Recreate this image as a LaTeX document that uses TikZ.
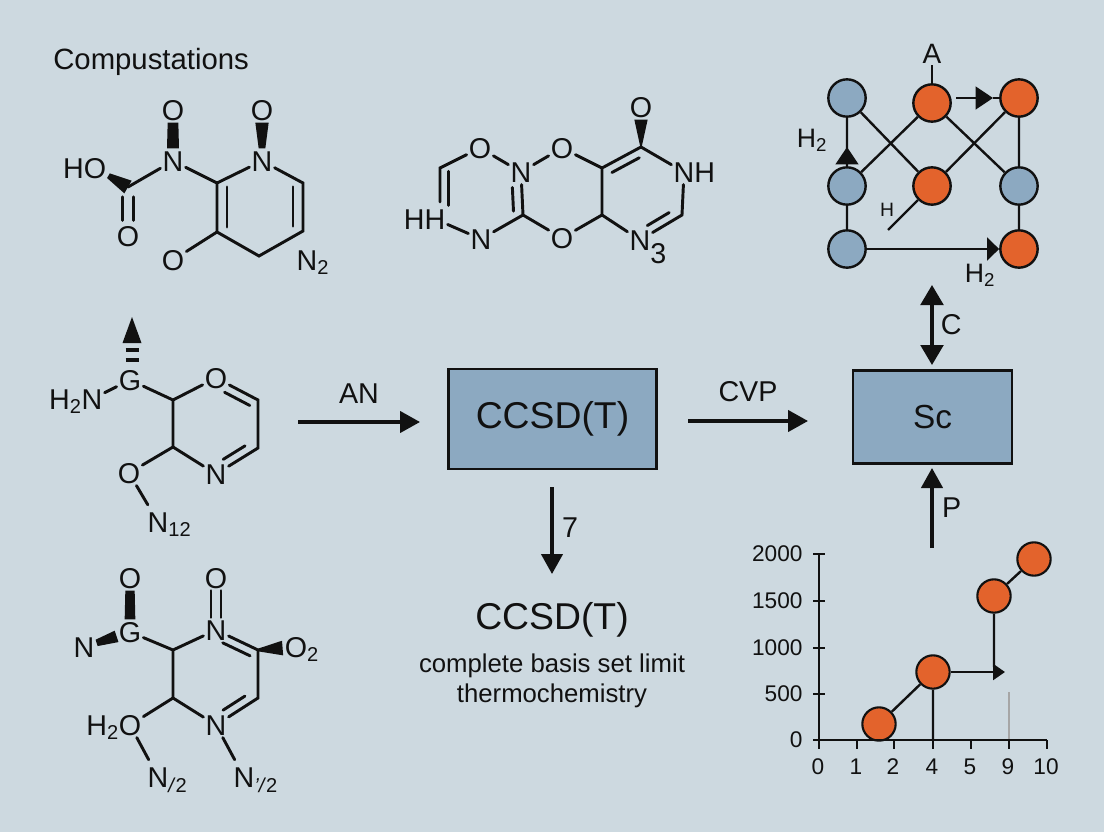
\documentclass[tikz,border=0pt]{standalone}
\usepackage{fontspec}
\setmainfont{Liberation Sans}
\usetikzlibrary{arrows.meta,calc}
\definecolor{paper}{HTML}{CDD9E0}
\definecolor{ink}{HTML}{111111}
\definecolor{steel}{HTML}{8CA9C1}
\definecolor{rust}{HTML}{E3632C}
\tikzset{
  atom/.style={inner sep=1.5pt, text height=15.5pt, text depth=0pt, font=\fontsize{21.5}{24}\selectfont},
  bond/.style={line width=2.2pt, line cap=round},
  flow/.style={line width=2.5pt, -{Triangle[length=15pt,width=16pt]}},
  flowlbl/.style={font=\fontsize{21.5}{24}\selectfont},
  site/.style={circle, draw=ink, line width=1.8pt, minimum size=28pt, inner sep=0pt},
  link/.style={line width=1.8pt},
  tinyhead/.style={-{Triangle[length=13pt,width=17pt]}},
  blockbox/.style={draw=ink, line width=1.8pt, fill=steel},
  dot/.style={circle, draw=ink, fill=rust, line width=1.6pt, minimum size=25pt, inner sep=0pt},
  axlbl/.style={font=\fontsize{17}{19}\selectfont, inner sep=0pt}
}
% inner line of a double bond: from, to, offset, start, end
\newcommand{\dblin}[5]{\draw[bond] ($(#1)!#4!(#2)+(#1)!#3!90:(#2)-(#1)$) -- ($(#1)!#5!(#2)+(#1)!#3!90:(#2)-(#1)$);}
% solid wedge: from, to, half width at each end
\newcommand{\wdg}[4]{\path (#1) -- (#2) coordinate[pos=0] (wa) coordinate[pos=1] (wb);
  \fill[ink] ($(wa)!#3!90:(wb)$) -- ($(wb)!#4!-90:(wa)$) -- ($(wb)!#4!90:(wa)$) -- ($(wa)!#3!-90:(wb)$) -- cycle;}

\begin{document}
\begin{tikzpicture}[x=0.75pt, y=-0.75pt, text=ink, draw=ink, >=Stealth]
  \fill[paper] (0, 0) rectangle (1104, 832);
  \useasboundingbox (0, 0) rectangle (1104, 832);
  \node[font=\fontsize{22}{26}\selectfont, inner sep=0pt, anchor=west] (title) at (53, 62) {Compustations};

  % top left molecule
  \node[atom] (o1) at (173, 110) {O};
  \node[atom] (o2) at (262, 110) {O};
  \node[atom] (n1) at (173, 161) {N};
  \node[atom] (n2) at (262, 161) {N};
  \node[atom] (ho) at (95, 168)  {\llap{H}O};
  \node[atom] (o3) at (128, 236) {O};
  \node[atom] (o4) at (173, 260) {O};
  \node[atom] (nb) at (307, 260) {N\rlap{\textsubscript{2}}};
  \coordinate (ca) at (128, 187);
  \coordinate (cb) at (217, 183);
  \coordinate (cc) at (217, 232);
  \coordinate (cd) at (259, 256);
  \coordinate (ce) at (303, 231);
  \coordinate (cf) at (303, 183);
  \draw[bond] (ca) -- (n1) (n1) -- (cb) -- (n2) (n2) -- (cf) -- (ce) -- (cd) -- (cc) -- (cb);
  \draw[bond] (cc) -- (o4);
  \dblin{cb}{cc}{7.5pt}{.08}{.9}
  \dblin{cf}{ce}{-7.5pt}{.08}{.9}
  \dblin{ca}{o3}{4pt}{.2}{.68}
  \dblin{ca}{o3}{-4pt}{.2}{.68}
  \wdg{ho}{ca}{2pt}{5.5pt}
  \wdg{n1}{o1}{4.5pt}{4pt}
  \wdg{n2}{o2}{2.5pt}{5pt}

  % top middle molecule
  \node[atom] (o5) at (641, 107) {O};
  \node[atom] (nh) at (684, 172) {N\rlap{H}};
  \node[atom] (o6) at (562, 148) {O};
  \node[atom] (o7) at (562, 238) {O};
  \node[atom] (n3) at (640, 240) {N\rlap{\raisebox{-10pt}{3}}};
  \node[atom] (n4) at (521, 172) {N};
  \node[atom] (n5) at (481, 239) {N};
  \node[atom] (hh) at (435, 219) {\llap{H}H};
  \node[atom] (o8) at (480, 148) {O};
  \coordinate (cg) at (641, 147);
  \coordinate (ch) at (602, 168);
  \coordinate (ci) at (602, 215);
  \coordinate (cj) at (682, 215);
  \coordinate (ck) at (523, 215);
  \coordinate (cl) at (440, 168);
  \coordinate (cm) at (440, 202);
  \draw[bond] (cg) -- (nh) (nh) -- (cj) -- (n3) (n3) -- (ci) -- (ch) -- (cg) (ch) -- (o6);
  \draw[bond] (o6) -- (n4) (n4) -- (o8) (o8) -- (cl) -- (cm);
  \draw[bond] (n4) -- (ck) -- (o7) (o7) -- (ci) (ck) -- (n5) (n5) -- (hh);
  \dblin{ch}{cg}{-6.5pt}{.15}{.85}
  \dblin{cj}{n3}{-6.5pt}{.2}{.72}
  \dblin{n4}{ck}{-7pt}{.35}{.9}
  \dblin{cl}{cm}{6.5pt}{.1}{1.1}
  \wdg{cg}{o5}{.5pt}{5pt}

  % block diagram in the top right corner
  \node[site, fill=steel] (a1) at (847, 98)  {};
  \node[site, fill=rust]  (a2) at (932, 103) {};
  \node[site, fill=rust]  (a3) at (1019, 98) {};
  \node[site, fill=steel] (b1) at (847, 186) {};
  \node[site, fill=rust]  (b2) at (932, 186) {};
  \node[site, fill=steel] (b3) at (1019, 186) {};
  \node[site, fill=steel] (c1) at (847, 249) {};
  \node[site, fill=rust]  (c3) at (1019, 249) {};
  \node[font=\fontsize{21}{24}\selectfont, inner sep=1pt] (lba) at (932, 54) {A};
  \node[font=\fontsize{20}{24}\selectfont, inner sep=0pt] (lbh1) at (812, 140) {H\textsubscript{2}};
  \node[font=\fontsize{14.5}{16}\selectfont, inner sep=0pt] (lbh2) at (887, 210) {H};
  \node[font=\fontsize{20}{24}\selectfont, inner sep=0pt] (lbh3) at (980, 275) {H\textsubscript{2}};
  \coordinate (hend) at (888, 230);
  \coordinate (atail) at (956, 98);
  \coordinate (ahead) at (993, 98);
  \coordinate (uphead) at (847, 147);
  \draw[link] (lba) -- (a2);
  \draw[link] (a1) -- (b1) (b1) -- (c1) (a1) -- (b2) (b1) -- (a2) (a2) -- (b3) (b2) -- (a3);
  \draw[link] (a3) -- (b3) (b3) -- (c3) (b2) -- (hend);
  \draw[link, tinyhead] (b1) -- (uphead);
  \draw[link, tinyhead] (atail) -- (ahead);
  \draw[link] (ahead) -- (a3);
  \draw[link, -{Triangle[length=9pt,width=17pt]}] (c1) -- (c3);

  % middle left molecule
  \node[atom] (g1) at (130, 380) {G};
  \node[atom] (n6) at (92, 399)  {\llap{H\textsubscript{2}}N};
  \node[atom] (o9) at (216, 378) {O};
  \node[atom] (n7) at (216, 474) {N};
  \node[atom] (o10) at (129, 473) {O};
  \node[atom] (n8) at (158, 522) {N\rlap{\textsubscript{12}}};
  \coordinate (cn) at (173, 400);
  \coordinate (co) at (173, 447);
  \coordinate (cp) at (258, 400);
  \coordinate (cq) at (258, 448);
  \coordinate (up) at (132, 317);
  \coordinate (upb) at (132, 343);
  \coordinate (hsa) at (132, 350);
  \coordinate (hsb) at (132, 360);
  \draw[bond] (n6) -- (g1) (g1) -- (cn) -- (o9) (cn) -- (co) -- (o10);
  \draw[bond, shorten >=4pt] (o10) -- (n8);
  \draw[bond] (co) -- (n7) (n7) -- (cq) -- (cp) -- (o9);
  \dblin{o9}{cp}{-6.5pt}{.3}{.9}
  \dblin{cq}{n7}{-6.5pt}{.2}{.72}
  \fill[ink] (up) -- ($(upb)+(9.5, 0)$) -- ($(upb)+(-9.5, 0)$) -- cycle;
  \draw[line width=2.5pt] ($(hsa)+(-6.5, 0)$) -- ($(hsa)+(6.5, 0)$) ($(hsb)+(-6.5, 0)$) -- ($(hsb)+(6.5, 0)$);

  % bottom left molecule
  \node[atom] (o11) at (130, 578) {O};
  \node[atom] (g2) at (130, 632)  {G};
  \node[atom] (n9) at (84, 647)   {N};
  \node[atom] (o12) at (216, 578) {O};
  \node[atom] (n10) at (216, 630) {N};
  \node[atom] (o13) at (296, 647) {O\rlap{\textsubscript{2}}};
  \node[atom] (n11) at (216, 725) {N};
  \node[atom] (o14) at (130, 725) {\llap{H\textsubscript{2}}O};
  \node[atom] (n12) at (158, 777) {N\rlap{\textsubscript{\textit{/}2}}};
  \node[atom] (n13) at (244, 777) {N\rlap{\textsubscript{\textit{'/}2}}};
  \coordinate (cr) at (173, 650);
  \coordinate (cs) at (173, 698);
  \coordinate (ct) at (258, 650);
  \coordinate (cu) at (258, 698);
  \draw[bond] (g2) -- (cr) -- (n10) (n10) -- (ct) -- (cu) -- (n11) (n11) -- (cs) -- (cr);
  \draw[bond] (cs) -- (o14);
  \draw[bond, shorten >=4pt] (o14) -- (n12);
  \draw[bond, shorten >=4pt] (n11) -- (n13);
  \draw[bond] ($(n10.north)+(-5, 0)$) -- ($(o12.south)+(-5, 0)$) ($(n10.north)+(5, 0)$) -- ($(o12.south)+(5, 0)$);
  \dblin{n10}{ct}{-6.5pt}{.25}{.9}
  \dblin{cu}{n11}{-6.5pt}{.2}{.72}
  \wdg{g2}{o11}{4pt}{3.5pt}
  \wdg{n9}{g2}{2.5pt}{4.5pt}
  \wdg{ct}{o13}{1pt}{5.5pt}

  % centre blocks and flow arrows
  \node[blockbox, minimum width=156pt, minimum height=75pt, inner sep=0pt, font=\fontsize{28}{32}\selectfont] (ccsd) at (552.5, 419) {CCSD(T)};
  \node[blockbox, minimum width=119pt, minimum height=70pt, inner sep=0pt, font=\fontsize{25}{30}\selectfont] (sc) at (932.5, 417) {Sc};
  \node[font=\fontsize{28}{32}\selectfont, inner sep=0pt] (res) at (552, 620) {CCSD(T)};
  \node[font=\fontsize{19.3}{22}\selectfont, inner sep=0pt] (res1) at (552, 666) {complete basis set limit};
  \node[font=\fontsize{19.3}{22}\selectfont, inner sep=0pt] (res2) at (552, 696) {thermochemistry};
  \coordinate (ins) at (298, 422);
  \coordinate (ine) at (420, 422);
  \coordinate (cvs) at (688, 421);
  \coordinate (cve) at (808, 421);
  \coordinate (dns) at (552, 487);
  \coordinate (dne) at (552, 574);
  \coordinate (dba) at (932, 285);
  \coordinate (dbb) at (932, 365);
  \coordinate (pts) at (932, 548);
  \coordinate (pte) at (932, 468);
  \draw[flow] (ins) -- node[flowlbl, above=9pt] (lan) {AN} (ine);
  \draw[flow] (cvs) -- node[flowlbl, above=10pt] (lcv) {CVP} (cve);
  \draw[flow] (dns) -- node[flowlbl, right=3pt, pos=.47] (ls) {7} (dne);
  \draw[flow, {Triangle[length=15pt,width=17pt]}-{Triangle[length=15pt,width=17pt]}] (dba) -- node[flowlbl, right=2pt] (lc) {C} (dbb);
  \draw[flow] (pts) -- node[flowlbl, right=3pt] (lp) {P} (pte);

  % chart in the lower right corner
  \coordinate (org) at (819, 740);
  \coordinate (ytop) at (819, 554);
  \coordinate (xend) at (1047, 740);
  \coordinate (grey) at (1009, 692);
  \coordinate (gfoot) at (1009, 740);
  \draw[color=black!35, line width=1pt] (grey) -- (gfoot);
  \node[dot] (d1) at (879, 724) {};
  \node[dot] (d2) at (933, 672) {};
  \node[dot] (d3) at (994, 596) {};
  \node[dot] (d4) at (1034, 559) {};
  \coordinate (foot) at (933, 740);
  \coordinate (hd) at (1005, 672);
  \coordinate (hdd) at (994, 667);
  \draw[link] (d1) -- (d2) (d2) -- (foot) (d3) -- (hdd) (d3) -- (d4);
  \draw[link, -{Triangle[length=9pt,width=12pt]}] (d2) -- (hd);
  \draw[line width=1.7pt] (ytop) -- (org) -- (xend);
  \foreach \yv/\lab in {554/2000, 601/1500, 648/1000, 694/500, 740/0}
    \draw[line width=1.7pt] (813, \yv) -- (825, \yv) node[axlbl, anchor=east, pos=0, xshift=-7pt] {\lab};
  \foreach \xv/\lab in {819/0, 857/1, 894/2, 933/4, 971/5, 1009/9, 1047/10}
    \draw[line width=1.7pt] (\xv, 740) -- (\xv, 749) node[axlbl, anchor=center, pos=1, xshift=-.75pt, yshift=-13.5pt] {\lab};
\end{tikzpicture}
\end{document}
